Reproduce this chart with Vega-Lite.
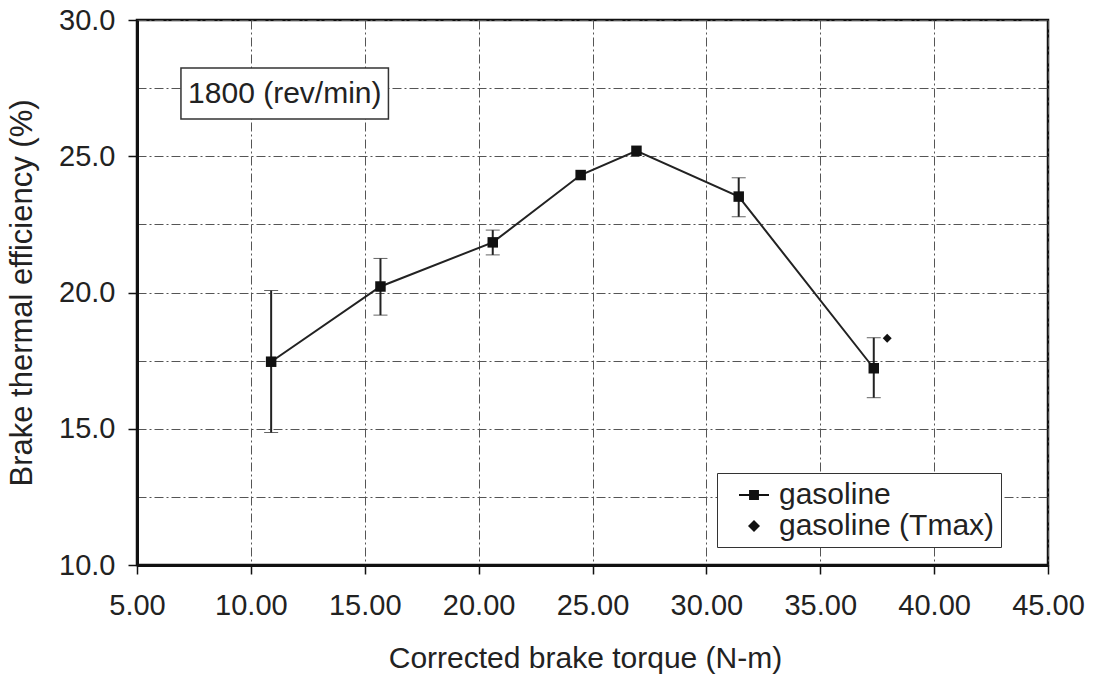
{
  "$schema": "https://vega.github.io/schema/vega-lite/v6.json",
  "width": 911,
  "height": 545,
  "autosize": {"type": "none"},
  "padding": {"left": 137, "top": 20, "right": 49, "bottom": 111},
  "background": "white",
  "config": {
    "font": "Liberation Sans",
    "view": {"stroke": "#111", "strokeWidth": 2.5},
    "axis": {
      "labelFont": "Liberation Sans",
      "titleFont": "Liberation Sans",
      "labelColor": "#222",
      "titleColor": "#222",
      "titleFontWeight": "normal",
      "labelFlush": false,
      "labelOverlap": false,
      "domainColor": "#111",
      "domainWidth": 3,
      "tickColor": "#111",
      "tickWidth": 1.5,
      "tickSize": 9,
      "gridColor": "#555",
      "gridWidth": 1,
      "gridDash": [9, 3, 2, 3]
    }
  },
  "datasets": {
    "bte": [
      {"series": "gasoline", "torque": 10.89, "eff": 17.46, "lo": 14.86, "hi": 20.07},
      {"series": "gasoline", "torque": 15.69, "eff": 20.22, "lo": 19.17, "hi": 21.25},
      {"series": "gasoline", "torque": 20.62, "eff": 21.84, "lo": 21.38, "hi": 22.29},
      {"series": "gasoline", "torque": 24.48, "eff": 24.31, "lo": null, "hi": null},
      {"series": "gasoline", "torque": 26.93, "eff": 25.2, "lo": null, "hi": null},
      {"series": "gasoline", "torque": 31.42, "eff": 23.52, "lo": 22.78, "hi": 24.21},
      {"series": "gasoline", "torque": 37.35, "eff": 17.22, "lo": 16.14, "hi": 18.34},
      {"series": "gasoline (Tmax)", "torque": 37.94, "eff": 18.32, "lo": null, "hi": null}
    ]
  },
  "data": {"name": "bte"},
  "resolve": {"scale": {"shape": "independent"}},
  "layer": [
    {
      "transform": [{"filter": "datum.series === 'gasoline'"}],
      "mark": {"type": "line", "color": "#222", "strokeWidth": 2},
      "encoding": {
        "x": {
          "field": "torque", "type": "quantitative",
          "scale": {"domain": [5, 45], "nice": false},
          "title": "Corrected brake torque (N-m)",
          "axis": {
            "values": [5, 10, 15, 20, 25, 30, 35, 40, 45],
            "format": ".2f",
            "labelFontSize": 29,
            "labelPadding": 17,
            "titleFontSize": 30,
            "titleX": 448,
            "titleY": 102,
            "titleBaseline": "alphabetic",
            "grid": true
          }
        },
        "y": {
          "field": "eff", "type": "quantitative",
          "scale": {"domain": [10, 30], "nice": false},
          "title": "Brake thermal efficiency (%)",
          "axis": {
            "values": [10, 12.5, 15, 17.5, 20, 22.5, 25, 27.5, 30],
            "labelExpr": "datum.value % 5 === 0 ? format(datum.value, '.1f') : ''",
            "tickColor": {"condition": {"test": "datum.value % 5 !== 0", "value": "transparent"}, "value": "#111"},
            "labelFontSize": 29,
            "labelPadding": 13,
            "titleFontSize": 31,
            "titlePadding": 20,
            "grid": true
          }
        },
        "order": {"field": "torque"}
      }
    },
    {
      "transform": [{"filter": "datum.lo != null"}],
      "mark": {"type": "errorbar", "ticks": {"size": 14, "color": "#222", "strokeWidth": 2}, "rule": {"color": "#222", "strokeWidth": 2}},
      "encoding": {
        "x": {"field": "torque", "type": "quantitative", "title": "Corrected brake torque (N-m)"},
        "y": {"field": "lo", "type": "quantitative", "title": "Brake thermal efficiency (%)"},
        "y2": {"field": "hi"}
      }
    },
    {
      "mark": {"type": "point", "filled": true, "opacity": 1, "color": "#111"},
      "encoding": {
        "x": {"field": "torque", "type": "quantitative", "title": "Corrected brake torque (N-m)"},
        "y": {"field": "eff", "type": "quantitative", "title": "Brake thermal efficiency (%)"},
        "shape": {
          "field": "series", "type": "nominal",
          "scale": {"domain": ["gasoline", "gasoline (Tmax)"], "range": ["square", "diamond"]},
          "legend": null
        },
        "size": {"condition": {"test": "datum.series === 'gasoline'", "value": 110}, "value": 80}
      }
    },
    {
      "mark": {"type": "point", "filled": true, "opacity": 0, "fill": "#111", "size": 900},
      "encoding": {
        "x": {"field": "torque", "type": "quantitative", "title": "Corrected brake torque (N-m)"},
        "y": {"field": "eff", "type": "quantitative", "title": "Brake thermal efficiency (%)"},
        "shape": {
          "field": "series", "type": "nominal",
          "scale": {
            "domain": ["gasoline", "gasoline (Tmax)"],
            "range": ["M-1,-0.07H1V0.07H-1ZM-0.33,-0.33H0.33V0.33H-0.33Z", "M0,-0.4L0.4,0L0,0.4L-0.4,0Z"]
          },
          "legend": {
            "title": null,
            "orient": "none",
            "legendX": 580,
            "legendY": 453,
            "direction": "vertical",
            "strokeColor": "#333",
            "fillColor": "white",
            "padding": 6,
            "labelFontSize": 30,
            "labelFont": "Liberation Sans",
            "labelColor": "#222",
            "labelOffset": 9,
            "labelLimit": 400,
            "symbolOffset": 15,
            "rowPadding": 0,
            "symbolSize": 900,
            "symbolOpacity": 1,
            "symbolFillColor": "#111"
          }
        }
      }
    },
    {
      "data": {"values": [{"label": "1800 (rev/min)"}]},
      "mark": {"type": "rect", "fill": "white", "stroke": "#333", "strokeWidth": 1.5},
      "encoding": {
        "x": {"datum": 6.93, "type": "quantitative", "title": "Corrected brake torque (N-m)"},
        "x2": {"datum": 16.04},
        "y": {"datum": 28.24, "type": "quantitative", "title": "Brake thermal efficiency (%)"},
        "y2": {"datum": 26.37}
      }
    },
    {
      "data": {"values": [{"label": "1800 (rev/min)"}]},
      "mark": {"type": "text", "fontSize": 30, "color": "#222", "align": "center", "baseline": "middle"},
      "encoding": {
        "x": {"datum": 11.49, "type": "quantitative", "title": "Corrected brake torque (N-m)"},
        "y": {"datum": 27.3, "type": "quantitative", "title": "Brake thermal efficiency (%)"},
        "text": {"field": "label"}
      }
    }
  ]
}
